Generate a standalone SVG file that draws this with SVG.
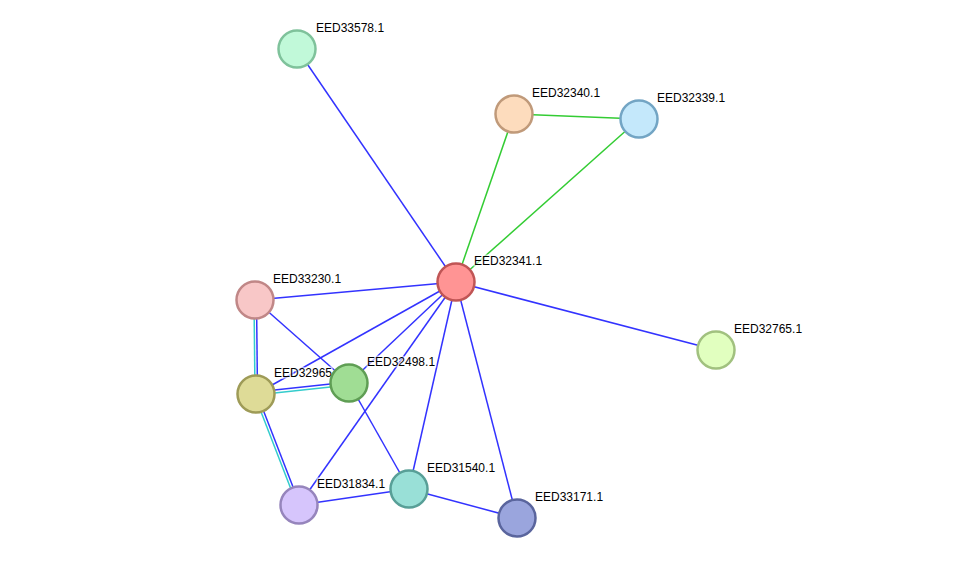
<svg xmlns="http://www.w3.org/2000/svg" width="975" height="564" viewBox="0 0 975 564">
<style>
.b{stroke:#3333ff;stroke-width:1.5;fill:none}
.g{stroke:#33cc33;stroke-width:1.5;fill:none}
.c{stroke:#33cccc;stroke-width:1.5;fill:none}
circle{stroke-width:2.5}
text{font-family:"Liberation Sans",Arial,sans-serif;font-size:12px;fill:#000;stroke:#fff;stroke-width:3;stroke-opacity:0.6;paint-order:stroke}
</style>
<rect width="975" height="564" fill="#fff"/>
<g id="edges">
<line class="b" x1="297" y1="49" x2="456" y2="282"/>
<line class="g" x1="514" y1="114" x2="456" y2="282"/>
<line class="g" x1="639" y1="119" x2="456" y2="282"/>
<line class="g" x1="514" y1="114" x2="639" y2="119"/>
<line class="b" x1="456" y1="282" x2="255" y2="300"/>
<line class="b" x1="456" y1="282" x2="716" y2="350"/>
<line class="b" x1="456" y1="282" x2="256" y2="394"/>
<line class="b" x1="456" y1="282" x2="349" y2="383"/>
<line class="b" x1="456" y1="282" x2="299" y2="505"/>
<line class="b" x1="456" y1="282" x2="409" y2="489"/>
<line class="b" x1="456" y1="282" x2="517" y2="518"/>
<line class="b" x1="255" y1="300" x2="349" y2="383"/>
<line class="c" x1="254" y1="300" x2="255" y2="394"/>
<line class="b" x1="256.5" y1="300" x2="257.5" y2="394"/>
<line class="b" x1="256" y1="392" x2="349" y2="382"/>
<line class="c" x1="256" y1="395" x2="349" y2="385"/>
<line class="c" x1="254.5" y1="395" x2="297.5" y2="506"/>
<line class="b" x1="257" y1="394" x2="300" y2="505"/>
<line class="b" x1="349" y1="383" x2="409" y2="489"/>
<line class="b" x1="299" y1="505" x2="409" y2="489"/>
<line class="b" x1="409" y1="489" x2="517" y2="518"/>
</g>
<g id="n33578"><circle cx="297" cy="49" r="18.5" fill="#c1f9d9" stroke="#7fc29b"/><text x="316" y="32">EED33578.1</text></g>
<g id="n32340"><circle cx="514" cy="114" r="18.5" fill="#fddcbd" stroke="#c09a7a"/><text x="532" y="97">EED32340.1</text></g>
<g id="n32339"><circle cx="639" cy="119" r="18.5" fill="#c4e8fb" stroke="#73a5c4"/><text x="657" y="102">EED32339.1</text></g>
<g id="n32341"><circle cx="456" cy="282" r="18.5" fill="#ff9494" stroke="#c05555"/><text x="474" y="265">EED32341.1</text></g>
<g id="n33230"><circle cx="255" cy="300" r="18.5" fill="#f8c7c7" stroke="#c08787"/><text x="273" y="283">EED33230.1</text></g>
<g id="n32765"><circle cx="716" cy="350" r="18.5" fill="#e1ffbf" stroke="#a1c17f"/><text x="734" y="333">EED32765.1</text></g>
<g id="n32965"><circle cx="256" cy="394" r="18.5" fill="#dedb97" stroke="#9e9b57"/><text x="274" y="377">EED32965.1</text></g>
<g id="n32498"><circle cx="349" cy="383" r="18.5" fill="#a0dd94" stroke="#5f9e54"/><text x="367" y="366">EED32498.1</text></g>
<g id="n31540"><circle cx="409" cy="489" r="18.5" fill="#99e0d7" stroke="#589f97"/><text x="427" y="472">EED31540.1</text></g>
<g id="n31834"><circle cx="299" cy="505" r="18.5" fill="#d6c5fc" stroke="#9685bc"/><text x="317" y="488">EED31834.1</text></g>
<g id="n33171"><circle cx="517" cy="518" r="18.5" fill="#9aa5dd" stroke="#5a659d"/><text x="535" y="501">EED33171.1</text></g>
</svg>
